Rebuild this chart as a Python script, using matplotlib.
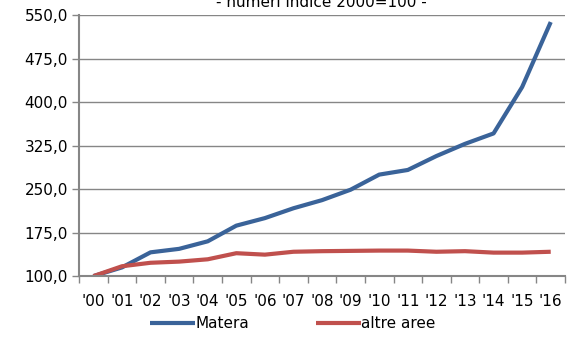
import matplotlib.pyplot as plt
from matplotlib.ticker import FuncFormatter, FixedLocator

anni = ["'00", "'01", "'02", "'03", "'04", "'05", "'06", "'07", "'08",
        "'09", "'10", "'11", "'12", "'13", "'14", "'15", "'16"]
matera = [100.0, 115.0, 141.0, 147.0, 160.0, 187.0, 200.0, 217.0, 231.0,
          249.0, 275.0, 283.0, 307.0, 328.0, 346.0, 426.0, 538.0]
altre_aree = [100.0, 117.0, 123.0, 125.0, 129.0, 139.5, 137.0, 142.0, 143.0,
              143.5, 144.0, 144.0, 142.0, 143.0, 140.5, 140.5, 142.0]
y_ticks = [100, 175, 250, 325, 400, 475, 550]

plt.rcParams['font.family'] = ['DejaVu Sans']
grigio = "#868686"

fig = plt.figure(figsize=(5.69, 3.43), dpi=100)
ax = fig.add_axes([0.139, 0.195, 0.854, 0.761])

x = list(range(len(anni)))
l1, = ax.plot(x, matera, color="#3A6399", lw=3, label="Matera", solid_capstyle="butt")
l2, = ax.plot(x, altre_aree, color="#C0504D", lw=3, label="altre aree", solid_capstyle="butt")

ax.set_ylim(100, 550)
ax.set_xlim(-0.5, len(anni) - 0.5)
ax.set_yticks(y_ticks)
ax.yaxis.set_major_formatter(FuncFormatter(lambda v, p: f"{v:.1f}".replace(".", ",")))
ax.grid(axis="y", color=grigio, lw=1)
ax.set_axisbelow(True)

# tick di categoria tra gli anni, etichette al centro
ax.xaxis.set_major_locator(FixedLocator([i - 0.5 for i in range(len(anni) + 1)]))
ax.xaxis.set_major_formatter(FuncFormatter(lambda v, p: ""))
ax.xaxis.set_minor_locator(FixedLocator(x))
ax.set_xticklabels(anni, minor=True)
ax.tick_params(axis="x", which="major", length=5, color=grigio, width=1)
ax.tick_params(axis="x", which="minor", length=0, pad=13, labelsize=11)
ax.tick_params(axis="y", length=5, color=grigio, width=1, labelsize=11, pad=3)

for s in ["top", "right"]:
    ax.spines[s].set_visible(False)
for s in ["left", "bottom"]:
    ax.spines[s].set_color(grigio)
    ax.spines[s].set_linewidth(1.5)

fig.text(0.565, 0.993, "- numeri indice 2000=100 -", ha="center", va="center", fontsize=11)

fig.legend(handles=[l1, l2], loc="center", bbox_to_anchor=(0.515, 0.057), ncol=2,
           frameon=False, fontsize=11, handlelength=2.9, handletextpad=0.05,
           columnspacing=4.4)

fig.savefig("out.png", dpi=100)
